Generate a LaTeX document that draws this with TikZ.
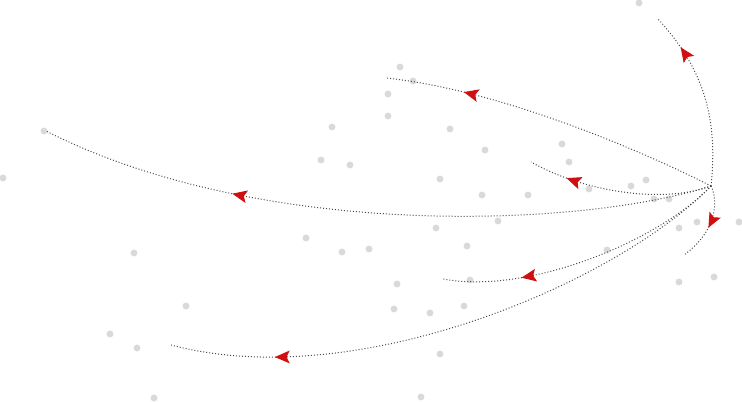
\documentclass[tikz,border=0pt]{standalone}
\usepackage{tikz}
\usepackage{xcolor}
\usetikzlibrary{arrows.meta}
\usetikzlibrary{decorations.markings}

\definecolor{spotgray}{HTML}{D9D9D9}
\definecolor{linkgray}{HTML}{4A4A4A}
\definecolor{tipred}{HTML}{D01010}

\begin{document}
\begin{tikzpicture}[
    x=0.75pt,y=-0.75pt,
    spot/.style={circle,fill=spotgray,inner sep=0pt,minimum size=5.2pt},
    flow/.style={draw=linkgray,line width=0.75pt,dash pattern=on 0.75pt off 1.5pt,
        postaction={decorate,decoration={markings,
            mark=at position #1 with {\arrow{Stealth[tipred,length=11pt,width=9.5pt,inset=2.2pt]}}}}},
]
    \useasboundingbox (0,0) rectangle (742,402);
    % background points
    \foreach \x/\y [count=\i] in {44/131,3/178,400/67,413/81,388/94,388/116,332/127,
        450/129,485/150,321/160,350/165,440/179,482/195,639/3,562/144,569/162,
        528/195,589/189,631/186,646/180,654/199,669/199,134/253,186/306,110/334,
        137/348,154/398,436/228,467/246,306/238,342/252,369/249,397/284,470/280,
        394/309,430/313,464/306,440/354,421/397,498/221,679/228,697/222,739/222,
        607/250,679/282,714/277}
        \node[spot] (s\i) at (\x,\y) {};

    % origin and destinations
    \coordinate (hub) at (711,186);
    \coordinate (top) at (658,19);
    \coordinate (upper) at (386,78);
    \coordinate (far) at (46,131);
    \coordinate (near) at (531,162);
    \coordinate (below) at (684,255);
    \coordinate (mid) at (443,279);
    \coordinate (low) at (171,345);

    % links
    \path[flow=0.80] (hub) .. controls (718,120) and (705,70) .. (top);
    \path[flow=0.77] (hub) .. controls (640,150) and (500,90) .. (upper);
    \path[flow=0.71] (hub) .. controls (580,228) and (260,240) .. (far);
    \path[flow=0.79] (hub) .. controls (660,205) and (580,190) .. (near);
    \path[flow=0.54] (hub) .. controls (718,200) and (718,230) .. (below);
    \path[flow=0.73] (hub) .. controls (660,240) and (530,295) .. (mid);
    \path[flow=0.82] (hub) .. controls (620,280) and (360,395) .. (low);
\end{tikzpicture}
\end{document}
